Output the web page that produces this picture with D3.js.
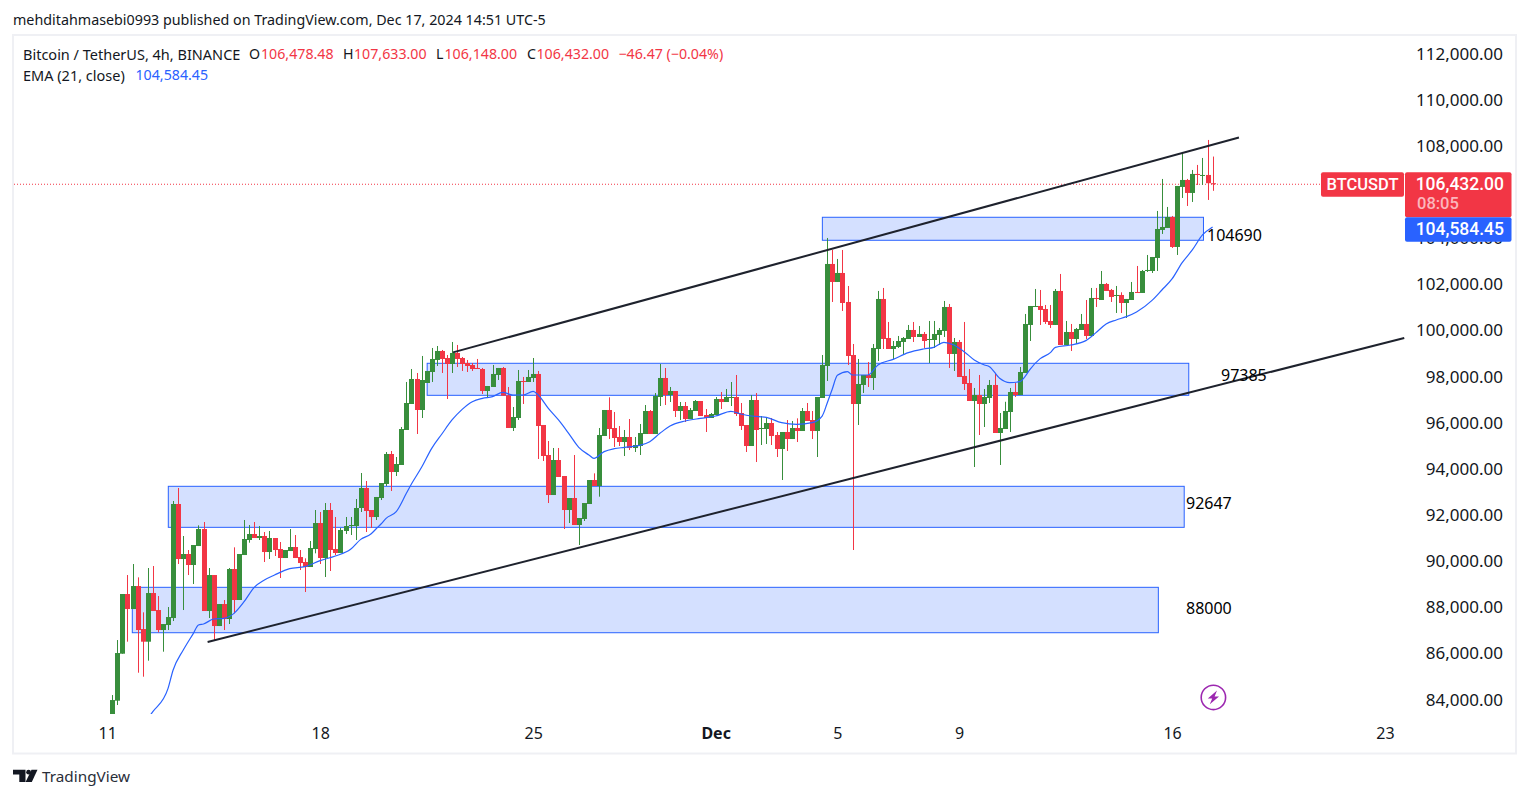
<!DOCTYPE html>
<html>
<head>
<meta charset="utf-8">
<title>BTCUSDT 4h</title>
<script src="https://cdnjs.cloudflare.com/ajax/libs/d3/7.8.5/d3.min.js"></script>
<style>
  html, body { margin: 0; padding: 0; background: #fff; overflow: hidden; }
  text { font-family: "Noto Sans", sans-serif; }
  text.tag { font-family: Roboto, sans-serif; }
</style>
</head>
<body>
<svg id="svg" width="1529" height="798"></svg>
<script>
// candles, one every 4h
var opens = [
  83065,84048,86085,88672,88021,89018,87154,86605,88715,87978,
  87111,87328,87631,92573,90189,90406,89929,90752,91489,87935,
  89495,87284,88238,87588,89755,88412,90362,91013,91273,91099,
  91186,90492,91099,90622,90232,90535,90709,90275,90059,89842,
  90622,91749,90232,92313,90622,90449,91403,91619,91619,92400,
  93267,92313,92009,92833,93440,94741,93960,94264,95781,96908,
  97992,96648,97818,98295,98816,99206,98902,98642,99119,98902,
  98685,98599,98469,98425,97472,97645,98165,98469,97284,95868,
  96301,97905,97862,98035,98209,95998,94697,92963,94480,93787,
  92313,92833,91663,91923,92573,93613,93353,95521,96648,95867,
  95477,95260,95477,95000,95087,95607,96604,95607,97211,98035,
  97298,97471,96604,96821,96257,96604,97038,96431,96301,96431,
  97124,96994,97197,97211,96517,95997,95087,97081,95824,95824,
  96084,95564,94957,95694,95390,95867,95737,96604,96214,95737,
  97168,98555,102977,102197,102587,101330,99032,96908,97732,98165,
  98035,99292,101460,99769,99292,99379,99596,99726,100116,99812,
  99943,99682,99682,99899,100073,101113,99076,99596,98122,97818,
  97038,97298,96908,97168,97732,95651,95824,96561,97428,97298,
  98252,100333,101127,101156,101026,100506,100333,101807,99466,100029,
  99726,100116,100376,99856,101503,101416,102110,101850,101604,101633,
  101286,101416,101763,101720,102673,102673,103237,104451,104538,105015,
  103714,106315,106618,106055,106879,106806,106835,106478
];
var closes = [
  84076,86114,88672,88021,89018,87111,86605,88715,87935,87111,
  87371,87674,92573,90189,90406,89929,90796,91489,87935,89495,
  87284,88238,87588,89755,88412,90406,91056,91273,91099,91186,
  90492,91099,90579,90232,90579,90709,90232,90015,89842,90666,
  91749,90232,92313,90579,90449,91446,91619,91663,92400,93267,
  92270,92009,92877,93483,94741,93960,94307,95824,96951,97992,
  96648,97948,98339,98859,99206,98859,98642,99119,98859,98642,
  98555,98425,98425,97472,97688,98209,98469,97269,95868,96344,
  97905,97862,98079,98209,95954,94654,92963,94480,93744,92313,
  92833,91663,91966,92616,93613,93353,95564,96648,95824,95434,
  95260,95477,95000,95130,95650,96604,95607,97254,98035,97298,
  97471,96604,96821,96257,96647,97038,96387,96301,96474,97124,
  96994,97211,97211,96474,95954,95087,97081,95781,95867,96084,
  95520,94957,95694,95390,95867,95737,96604,96171,95737,97211,
  98599,102977,102197,102587,101286,98989,96908,97775,98165,98035,
  99336,101460,99726,99292,99422,99639,99769,100116,99812,99943,
  99639,99726,99943,100116,101113,99076,99596,98078,97775,97038,
  97298,96908,97212,97732,95651,95868,96605,97428,97298,98295,
  100376,101156,101156,100983,100463,100333,101807,99466,100029,99726,
  100159,100376,99856,101503,101460,102110,101807,101547,101633,101286,
  101460,101763,101720,102673,102717,103280,104494,104581,105015,103714,
  106358,106618,106055,106879,106835,106835,106478,106432
];
var highs = [
  84293,86677,88672,89495,89972,89394,87877,89799,89885,88585,
  87371,88108,92703,93267,91186,90579,90796,91648,91793,89799,
  89495,88238,88412,89799,90695,90406,91880,91663,91793,91619,
  91359,91403,91099,90926,90579,91489,91229,90579,90218,90969,
  92313,92226,92616,92616,92010,91533,92010,92010,92790,93917,
  93570,92313,92877,93483,94827,94871,94610,95911,97862,98425,
  98252,98989,98339,99336,99422,99249,99032,99596,99466,98946,
  98816,98685,98859,98469,97688,98599,98469,98512,97645,96778,
  98382,98079,98382,98902,98339,95998,95304,95001,95001,93787,
  92833,94697,91966,92616,93613,93902,95868,96648,97197,96561,
  95954,95781,96257,95477,96041,96864,96647,97384,98642,98468,
  97645,97471,96994,96994,96734,97081,97038,96691,96517,97211,
  97428,97558,97861,98165,96951,95997,97298,97384,96387,96344,
  96301,95694,95694,96214,96171,96286,96734,96951,96604,97211,
  99032,104104,103584,103194,103584,102023,99509,98859,98165,98729,
  99509,101807,101937,100463,99639,99856,99812,100333,100463,100289,
  100029,100506,100506,100203,101373,101243,99769,99682,100463,98425,
  97602,98165,97558,97948,98252,96518,97005,97602,97818,98512,
  100810,101156,101893,101850,101200,101200,101893,102544,100506,100376,
  100203,100810,101416,101937,101937,102673,102153,101893,102023,101749,
  101460,102197,102890,102717,103367,103280,105275,106662,105448,105058,
  106358,107832,106662,107052,107269,107572,108352,107633
];
var lows = [
  82776,83860,86085,86605,88021,85261,85088,85782,87935,87010,
  86172,87111,87501,89972,87978,89495,89105,90752,87935,87631,
  86677,87284,87111,87371,87833,88412,90362,90897,91099,91013,
  90059,90189,90319,89365,90232,90535,90232,89712,88758,89842,
  90435,89972,89408,89669,90362,90449,91273,91229,91013,92226,
  91359,91533,91879,92746,93353,93137,93787,94264,95781,96908,
  95608,96301,97818,97862,98555,98252,97125,98252,98512,98339,
  98295,98339,98425,97342,97168,97645,97948,97269,95868,95738,
  96215,96908,97862,97862,94524,94437,92616,92963,93744,91489,
  91749,91663,90796,91836,92573,93353,92891,95521,95391,95044,
  95087,94653,94913,94827,94697,95607,95607,95607,96821,96864,
  96994,96344,96214,96127,96257,96604,96387,95694,96301,96431,
  96691,96994,96821,96387,95781,94827,95087,94393,95130,95174,
  95130,94610,93613,94870,95390,95260,95737,96171,95390,94610,
  97168,97905,101330,102197,100940,98599,90579,95998,97385,97645,
  97515,98772,99292,99292,98859,99336,99076,99726,99596,99812,
  99336,98685,99336,99466,99812,98469,98339,98078,97515,97038,
  94177,95564,95911,96951,95651,94264,95824,95694,97212,97298,
  98252,99639,101127,100333,100376,100203,100333,99466,99466,99206,
  99509,100116,99726,99856,101113,101416,101807,101330,100853,100853,
  100636,101416,101720,101720,102630,102587,102673,104278,104538,103671,
  103367,105838,105491,105665,106402,106402,105752,106148
];

// EMA (21) read at every few candles
var emaIndex = [7,8,11,12,14,16,17,18,20,22,24,26,28,30,32,35,38,41,44,47,49,51,52,53,54,56,58,59,61,63,65,67,69,71,73,75,77,79,81,83,84,86,88,90,92,94,95,97,99,101,104,106,108,110,113,116,119,122,124,126,129,132,135,138,140,141,142,143,145,146,149,151,154,157,160,162,164,166,168,170,172,173,175,177,179,180,181,183,185,186,189,192,194,196,198,200,202,205,207,209,211,213,215,217];
var emaValues = [83282,83571,84582,85377,86244,86967,87328,87371,87588,87617,87833,88339,88960,89278,89495,89770,89857,90117,90319,90608,91041,91273,91489,91706,91952,92241,93036,93440,94163,94986,95608,96215,96677,97009,97154,97226,97414,97298,97298,97457,97298,96720,96215,95636,95029,94697,94553,94842,94971,95029,95116,95275,95636,95954,96170,96286,96387,96590,96474,96387,96330,96098,96026,96098,96387,96950,97560,98150,98310,98165,98165,98599,98844,99133,99292,99365,99581,99466,99177,98816,98599,98527,98021,97833,97876,98093,98411,98873,99133,99365,99466,99654,100000,100376,100549,100694,100896,101388,101850,102327,103035,103584,104234,104584];

// blue zones: candle index span and price span, with the level written next to each
var zoneStart  = [140.04, 62.1, 11.05, 3.95];
var zoneEnd    = [215.2, 212.3, 211.4, 206.3];
var zoneTop    = [105001, 98672, 93340, 88962];
var zoneBottom = [104004, 97284, 91562, 86994];

// the two channel lines
var channelStart = [[67.2, 99144], [18.8, 86591]];
var channelEnd   = [[222.2, 108460], [254.8, 99769]];

// 106,000 sits fully behind the price tag in the picture, so it is left out
var priceTicks = [84000,86000,88000,90000,92000,94000,96000,98000,100000,102000,104000,108000,110000,112000];
var dayTicks  = [-1, 41, 83, 119, 143, 167, 209, 251];
var dayLabels = ["11", "18", "25", "Dec", "5", "9", "16", "23"];

var lastPrice = 106432;

var RED = "#f23645", GREEN = "#388e3c", BLUE = "#2962ff", INK = "#131722";

var svg = d3.select("#svg");

var x = d3.scaleLinear().domain([-1, 251]).range([107.2, 1385]);
var y = d3.scaleLinear().domain([84000, 112000]).range([701.8, 55.8]);

function label(px, py, str, color, size, anchor, weight) {
  return svg.append("text")
    .attr("x", px).attr("y", py)
    .attr("dominant-baseline", "central")
    .attr("text-anchor", anchor || "start")
    .attr("font-size", size)
    .attr("font-weight", weight || 400)
    .attr("fill", color)
    .text(str);
}

// frame
svg.append("rect")
  .attr("x", 13).attr("y", 35).attr("width", 1503).attr("height", 718.5)
  .attr("fill", "#fff").attr("stroke", "#eff0f4").attr("stroke-width", 2);

svg.append("clipPath").attr("id", "pane")
  .append("rect").attr("x", 14).attr("y", 36).attr("width", 1390).attr("height", 678);

// zones
var zoneG = svg.append("g");
zoneTop.forEach(function(t, i) {
  zoneG.append("rect")
    .attr("x", x(zoneStart[i]))
    .attr("y", y(t))
    .attr("width", x(zoneEnd[i]) - x(zoneStart[i]))
    .attr("height", y(zoneBottom[i]) - y(t))
    .attr("fill", BLUE).attr("fill-opacity", 0.2)
    .attr("stroke", BLUE).attr("stroke-width", 1);
});

// last price line
svg.append("line")
  .attr("x1", 14).attr("x2", 1321)
  .attr("y1", y(lastPrice)).attr("y2", y(lastPrice))
  .attr("stroke", RED).attr("stroke-width", 1).attr("stroke-dasharray", "1 2");

// candles
var candleG = svg.append("g").attr("clip-path", "url(#pane)");
var idx = d3.range(opens.length);
function candleColor(i) { return closes[i] > opens[i] ? GREEN : RED; }

candleG.selectAll("line.wick").data(idx).enter().append("line")
  .attr("class", "wick")
  .attr("x1", function(i) { return Math.round(x(i)) + 0.5; })
  .attr("x2", function(i) { return Math.round(x(i)) + 0.5; })
  .attr("y1", function(i) { return y(highs[i]); })
  .attr("y2", function(i) { return y(lows[i]); })
  .attr("stroke", candleColor).attr("stroke-width", 1);

candleG.selectAll("rect.body").data(idx).enter().append("rect")
  .attr("class", "body")
  .attr("x", function(i) { return Math.round(x(i)) - 2; })
  .attr("width", 5)
  .attr("y", function(i) { return y(Math.max(opens[i], closes[i])); })
  .attr("height", function(i) { return Math.max(1, Math.abs(y(opens[i]) - y(closes[i]))); })
  .attr("fill", candleColor);

// EMA
var emaLine = d3.line()
  .x(function(d) { return x(d); })
  .y(function(d, i) { return y(emaValues[i]); })
  .curve(d3.curveMonotoneX);

candleG.append("path")
  .attr("d", emaLine(emaIndex))
  .attr("fill", "none").attr("stroke", BLUE).attr("stroke-width", 1.2);

// channel
channelStart.forEach(function(s, i) {
  svg.append("line")
    .attr("x1", x(s[0])).attr("y1", y(s[1]))
    .attr("x2", x(channelEnd[i][0])).attr("y2", y(channelEnd[i][1]))
    .attr("stroke", "#1e222d").attr("stroke-width", 2);
});

// price axis
var axisY = d3.axisRight(y)
  .tickValues(priceTicks)
  .tickSize(0)
  .tickFormat(d3.format(",.2f"));

svg.append("g")
  .attr("transform", "translate(1503,0)")
  .call(axisY)
  .call(function(g) { g.select(".domain").remove(); })
  .selectAll("text")
    .attr("x", 0).attr("dy", null)
    .attr("y", -3.2)
    .attr("dominant-baseline", "central")
    .attr("text-anchor", "end")
    .attr("font-family", "Noto Sans")
    .attr("font-size", 17)
    .attr("fill", INK);

// time axis
var axisX = d3.axisBottom(x)
  .tickValues(dayTicks)
  .tickSize(0)
  .tickFormat(function(d, i) { return dayLabels[i]; });

svg.append("g")
  .attr("transform", "translate(0,733)")
  .call(axisX)
  .call(function(g) { g.select(".domain").remove(); })
  .selectAll("text")
    .attr("y", 0).attr("dy", null)
    .attr("dominant-baseline", "central")
    .attr("font-family", "Noto Sans")
    .attr("font-size", 16)
    .attr("font-weight", function(d, i) { return dayLabels[i] == "Dec" ? 700 : 400; })
    .attr("fill", INK);

// zone levels
label(1207, 234.5, "104690", "#000", 16);
label(1221, 374.5, "97385", "#000", 16);
label(1186, 502.5, "92647", "#000", 16);
label(1186, 607.5, "88000", "#000", 16);

// price tags
svg.append("rect").attr("x", 1321).attr("y", 172.3).attr("width", 83).attr("height", 24.5).attr("rx", 2).attr("fill", RED);
svg.append("rect").attr("x", 1405).attr("y", 172.3).attr("width", 106.5).attr("height", 45).attr("rx", 2).attr("fill", RED);
svg.append("rect").attr("x", 1405).attr("y", 217.3).attr("width", 106.5).attr("height", 24.5).attr("rx", 2).attr("fill", BLUE);
label(1362.5, 184.5, "BTCUSDT", "#fff", 16.5, "middle", 500).attr("class", "tag");
label(1504, 183.5, "106,432.00", "#fff", 17.5, "end", 500).attr("class", "tag");
label(1417, 203.5, "08:05", "#fbb6bc", 16.5, "start", 500).attr("class", "tag");
label(1504, 229, "104,584.45", "#fff", 17.5, "end", 500).attr("class", "tag");

// header
label(13, 19.5, "mehditahmasebi0993 published on TradingView.com, Dec 17, 2024 14:51 UTC-5", INK, 14.3);
label(23, 53.5, "Bitcoin / TetherUS, 4h, BINANCE", INK, 14.5);
label(249, 53.5, "O", INK, 14.2);
label(261, 53.5, "106,478.48", RED, 14.2);
label(343, 53.5, "H", INK, 14.2);
label(354, 53.5, "107,633.00", RED, 14.2);
label(436, 53.5, "L", INK, 14.2);
label(444.5, 53.5, "106,148.00", RED, 14.2);
label(527, 53.5, "C", INK, 14.2);
label(536.5, 53.5, "106,432.00", RED, 14.2);
label(618.5, 53.5, "\u221246.47 (\u22120.04%)", RED, 14.2);
label(23, 74.5, "EMA (21, close)", INK, 14.5);
label(135.5, 74.5, "104,584.45", BLUE, 14.2);

// lightning mark
var bolt = svg.append("g").attr("transform", "translate(1213.4,697.4)");
bolt.append("circle").attr("r", 12.2).attr("fill", "#fff").attr("stroke", "#9c27b0").attr("stroke-width", 1.6);
bolt.append("path").attr("d", "M3.6,-6.8 L-5.6,1 L-1.2,1 L-3.6,6.8 L5.6,-1 L1.2,-1 Z").attr("fill", "#9c27b0");

// tradingview mark
var logo = svg.append("g").attr("fill", INK);
logo.append("path").attr("d", "M13,769.8 H25.5 V782 H19.3 V774.6 H13 Z");
logo.append("circle").attr("cx", 28.6).attr("cy", 772.2).attr("r", 2.4);
logo.append("path").attr("d", "M31.5,769.8 H37.5 L31.8,782 H25.6 Z");
label(42, 775.5, "TradingView", "#2a2e39", 15.3);
</script>
</body>
</html>
